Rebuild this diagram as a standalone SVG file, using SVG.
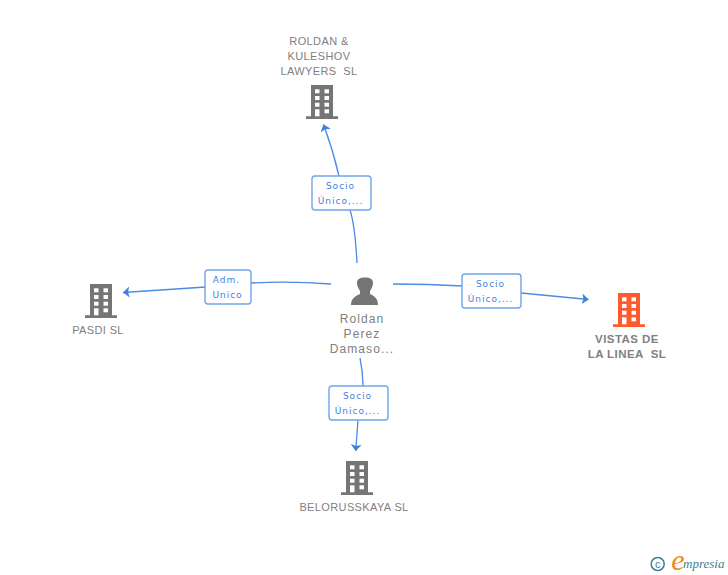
<svg xmlns="http://www.w3.org/2000/svg" width="728" height="575" viewBox="0 0 728 575">
<style>
.lbl{font-family:"Liberation Sans",Arial,sans-serif;font-size:11px;fill:#808080;text-anchor:middle;letter-spacing:.38px;white-space:pre}
.b{font-weight:bold;font-size:11.5px;letter-spacing:.45px}
.p{font-size:12px;letter-spacing:1.1px}
.e{font-family:"DejaVu Sans",sans-serif;font-size:9px;fill:#3f7fe0;text-anchor:middle;letter-spacing:1px}
.box{fill:#fff;stroke:#6fa5ec;stroke-width:1.4}
.c{fill:none;stroke:#4a8be6;stroke-width:1.3}
.w{fill:#fff}
</style>
<defs>
<marker id="a" markerWidth="12" markerHeight="12" refX="6.500" refY="5.500" orient="auto" markerUnits="userSpaceOnUse"><path d="M0 0L6.500 5.500L0 11L1.500 5.500Z" fill="#3f7fe0"/></marker>
<g id="bld">
<path d="M5 0H27V31.300H32V34H0V31.300H5Z"/>
<g class="w">
<rect x="9" y="4.300" width="4.500" height="4"/><rect x="18.500" y="4.300" width="4.500" height="4"/>
<rect x="9" y="11" width="4.500" height="4"/><rect x="18.500" y="11" width="4.500" height="4"/>
<rect x="9" y="17.700" width="4.500" height="4"/><rect x="18.500" y="17.700" width="4.500" height="4"/>
<rect x="9" y="24.300" width="4.500" height="7"/><rect x="18.500" y="24.300" width="4.500" height="4"/>
</g>
</g>
</defs>
<rect width="728" height="575" fill="#fff"/>
<g id="connectors">
<path class="c" d="M357 263Q355 225 350 210"/>
<path class="c" d="M339 176Q333 150 323.500 124.500" marker-end="url(#a)"/>
<path class="c" d="M331 284Q290 281 251 283"/>
<path class="c" d="M206 287L123 292.500" marker-end="url(#a)"/>
<path class="c" d="M393 284Q430 284 462 286"/>
<path class="c" d="M521 293L588.500 299.500" marker-end="url(#a)"/>
<path class="c" d="M360 358Q363 372 363 386"/>
<path class="c" d="M358 420L355.700 451" marker-end="url(#a)"/>
</g>
<g id="edge-top"><rect class="box" x="312" y="176" width="59" height="34" rx="3"/><text class="e" x="340.500" y="189">Socio</text><text class="e" x="340.500" y="204">Único,...</text></g>
<g id="edge-left"><rect class="box" x="205" y="270" width="46" height="34" rx="3"/><text class="e" x="226.500" y="283">Adm.</text><text class="e" x="227.500" y="298">Unico</text></g>
<g id="edge-right"><rect class="box" x="462" y="274" width="59" height="34" rx="3"/><text class="e" x="490.500" y="287">Socio</text><text class="e" x="490.500" y="302">Único,...</text></g>
<g id="edge-bottom"><rect class="box" x="329" y="386" width="59" height="34" rx="3"/><text class="e" x="357.500" y="399">Socio</text><text class="e" x="357.500" y="414">Único,...</text></g>
<g id="node-roldan-kuleshov"><use href="#bld" x="306" y="85" fill="#757575"/><text class="lbl" x="319" y="45">ROLDAN &amp;</text><text class="lbl" x="319" y="60">KULESHOV</text><text class="lbl" x="319" y="75">LAWYERS  SL</text></g>
<g id="node-pasdi"><use href="#bld" x="85" y="284" fill="#757575"/><text class="lbl" x="98" y="334">PASDI SL</text></g>
<g id="node-vistas"><use href="#bld" x="613" y="293" fill="#ff5a2d"/><text class="lbl b" x="627" y="343">VISTAS DE</text><text class="lbl b" x="627" y="358">LA LINEA  SL</text></g>
<g id="node-belorusskaya"><use href="#bld" x="341" y="461" fill="#757575"/><text class="lbl" x="354" y="511">BELORUSSKAYA SL</text></g>
<g id="node-person"><path fill="#757575" d="M351 305C351 298 356 296 360 294V291C358 288 357 285 357 283C357 279 360 277.500 365 277.500C370 277.500 373 279 373 283C373 285 372 288 370 291V294C374 296 378 298 378 305Z"/><text class="lbl p" x="362" y="323">Roldan</text><text class="lbl p" x="362" y="338">Perez</text><text class="lbl p" x="362" y="353">Damaso...</text></g>
<g id="brand"><circle cx="657.700" cy="564" r="6.500" fill="none" stroke="#3c7f96" stroke-width="1.500"/><text x="657.700" y="567.800" font-family="Liberation Sans,sans-serif" font-size="11" fill="#3c7f96" text-anchor="middle">c</text><text x="678" y="570" font-family="Liberation Serif,serif" font-style="italic" font-size="30" fill="#f08a1d" text-anchor="middle">e</text><text x="683" y="568" font-family="Liberation Serif,serif" font-style="italic" font-size="13" fill="#3c7f96">mpresia</text></g>
</svg>
